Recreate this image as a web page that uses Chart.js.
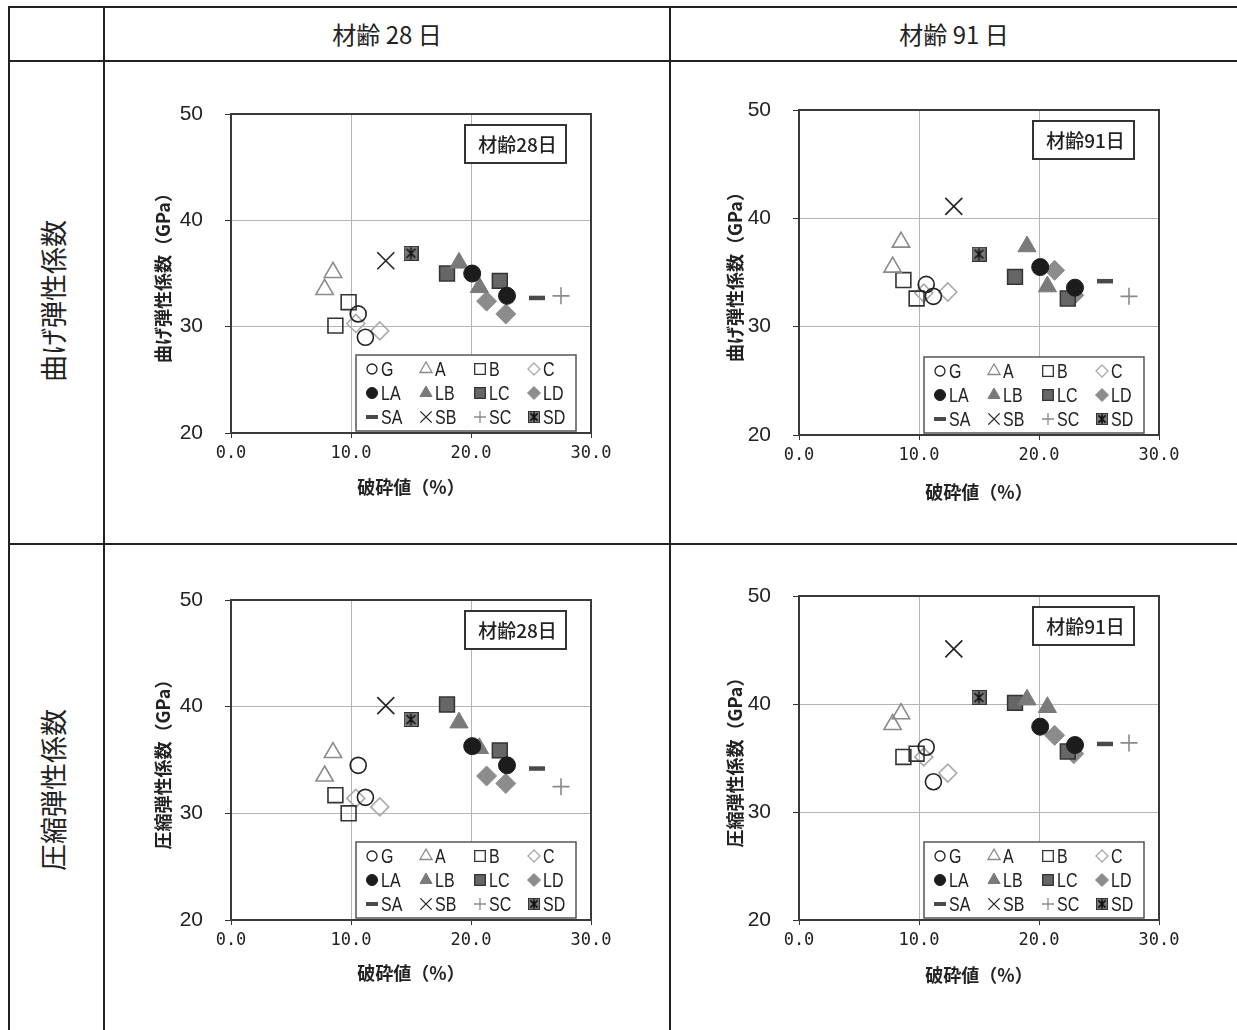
<!DOCTYPE html>
<html lang="ja">
<head>
<meta charset="utf-8">
<title>破砕値と弾性係数</title>
<script src="https://cdn.jsdelivr.net/npm/chart.js@4.4.1/dist/chart.umd.min.js"></script>
<style>
  html, body { margin: 0; padding: 0; background: #fff; }
  body { width: 1237px; height: 1030px; position: relative; overflow: hidden;
         font-family: "Noto Sans CJK JP", sans-serif; color: #222; }
  .ln { position: absolute; background: #222; }
  .head { position: absolute; top: 8px; height: 52px; line-height: 52px; font-size: 24px; text-align: center; }
  .rowlab { position: absolute; font-size: 27px; white-space: nowrap;
            transform: translate(-50%, -50%) rotate(-90deg); }
  canvas { position: absolute; }
</style>
</head>
<body>
<div class="ln" style="left:8px;top:6px;width:1229px;height:2px"></div>
<div class="ln" style="left:8px;top:60px;width:1229px;height:2px"></div>
<div class="ln" style="left:8px;top:543px;width:1229px;height:2px"></div>
<div class="ln" style="left:8px;top:6px;width:2px;height:1024px"></div>
<div class="ln" style="left:103px;top:6px;width:2px;height:1024px"></div>
<div class="ln" style="left:669px;top:6px;width:2px;height:1024px"></div>

<div class="head" style="left:105px;width:564px">材齢 28 日</div>
<div class="head" style="left:671px;width:566px">材齢 91 日</div>
<div class="rowlab" style="left:52px;top:301px">曲げ弾性係数</div>
<div class="rowlab" style="left:52px;top:790px">圧縮弾性係数</div>

<canvas id="c1" width="562" height="480" style="left:106px;top:63px"></canvas>
<canvas id="c2" width="563" height="480" style="left:672px;top:63px"></canvas>
<canvas id="c3" width="562" height="481" style="left:106px;top:547px"></canvas>
<canvas id="c4" width="563" height="481" style="left:672px;top:547px"></canvas>

<script>
// series in legend order
const seriesNames = ['G', 'A', 'B', 'C', 'LA', 'LB', 'LC', 'LD', 'SA', 'SB', 'SC', 'SD'];
// 破砕値 (%) of each aggregate, same in every panel
const crushValues = [[10.6, 11.2], [8.5, 7.8], [8.7, 9.8], [10.4, 12.4], [20.1, 23.0], [19.0, 20.7],
                     [18.0, 22.4], [21.3, 22.9], [25.5], [12.9], [27.5], [15.0]];
// 曲げ弾性係数 (GPa)
const bend28 = [[31.2, 29.0], [35.1, 33.5], [30.1, 32.3], [30.3, 29.6], [35.0, 32.9], [36.0, 33.7],
                [35.0, 34.3], [32.4, 31.2], [32.7], [36.2], [32.9], [36.9]];
const bend91 = [[33.9, 32.8], [37.8, 35.5], [34.3, 32.6], [33.1, 33.2], [35.5, 33.6], [37.4, 33.7],
                [34.6, 32.6], [35.2, 32.9], [34.2], [41.1], [32.8], [36.7]];
// 圧縮弾性係数 (GPa)
const comp28 = [[34.5, 31.5], [35.7, 33.5], [31.7, 30.0], [31.4, 30.6], [36.3, 34.5], [38.5, 36.1],
                [40.2, 35.9], [33.5, 32.8], [34.2], [40.1], [32.5], [38.8]];
const comp91 = [[36.0, 32.8], [39.1, 38.1], [35.1, 35.4], [35.1, 33.6], [37.9, 36.2], [40.4, 39.7],
                [40.1, 35.6], [37.1, 35.4], [36.3], [45.1], [36.4], [40.6]];
const xTicks = [0, 10, 20, 30];
const yTicks = [20, 30, 40, 50];

Chart.defaults.font.family = '"Noto Sans CJK JP", sans-serif';

// asterisk-in-square marker for SD
function makeSD(size) {
    const c = document.createElement('canvas');
    c.width = size; c.height = size;
    const g = c.getContext('2d');
    g.fillStyle = '#787878';
    g.fillRect(0, 0, size, size);
    g.strokeStyle = '#333';
    g.lineWidth = 1;
    g.strokeRect(0.5, 0.5, size - 1, size - 1);
    g.strokeStyle = '#111';
    g.lineWidth = 1.6;
    const m = size / 2, d = size * 0.3, v = size * 0.4;
    g.beginPath();
    g.moveTo(m, m - v); g.lineTo(m, m + v);
    g.moveTo(m - d, m - d); g.lineTo(m + d, m + d);
    g.moveTo(m + d, m - d); g.lineTo(m - d, m + d);
    g.stroke();
    return c;
}
const sdMark = makeSD(15);
const sdSmall = makeSD(12);

const none = 'rgba(0,0,0,0)';
const marks = [
    { style: 'circle',   r: 8,    fill: none,      line: '#222',    lw: 1.6, lr: 5 },
    { style: 'triangle', r: 10,   fill: none,      line: '#8a8a8a', lw: 1.6, lr: 7 },
    { style: 'rect',     r: 10.5, fill: none,      line: '#333',    lw: 1.6, lr: 7.5 },
    { style: 'rectRot',  r: 9,    fill: none,      line: '#aaa',    lw: 1.6, lr: 6 },
    { style: 'circle',   r: 8.5,  fill: '#1c1c1c', line: '#1c1c1c', lw: 1,   lr: 5.5 },
    { style: 'triangle', r: 10.5, fill: '#7a7a7a', line: '#7a7a7a', lw: 1,   lr: 7 },
    { style: 'rect',     r: 10.5, fill: '#666',    line: '#333',    lw: 1.5, lr: 7.5 },
    { style: 'rectRot',  r: 10,   fill: '#8c8c8c', line: '#8c8c8c', lw: 1,   lr: 6.5 },
    { style: 'line',     r: 8,    fill: '#555',    line: '#4a4a4a', lw: 4.5, lr: 6 },
    { style: 'crossRot', r: 12,   fill: '#222',    line: '#222',    lw: 1.6, lr: 8 },
    { style: 'cross',    r: 8.5,  fill: '#8a8a8a', line: '#8a8a8a', lw: 1.6, lr: 6 },
    { style: sdMark,     r: 8,    fill: '#787878', line: '#333',    lw: 1,   lr: 6 }
];

// plot frame, age tag and the boxed legend inside the plot
const framePlugin = {
    id: 'framePlugin',
    beforeDatasetsDraw(chart) {
        const { ctx, chartArea: a } = chart;
        ctx.save();
        ctx.strokeStyle = '#3a3a3a';
        ctx.lineWidth = 2;
        ctx.strokeRect(a.left, a.top, a.right - a.left, a.bottom - a.top);
        ctx.restore();
    },
    afterDatasetsDraw(chart, args, opts) {
        const { ctx, chartArea: a } = chart;
        ctx.save();
        // tag box
        const tw = 101, th = 38;
        const tx = a.right - 25 - tw, ty = a.top + 11;
        ctx.fillStyle = '#fff';
        ctx.fillRect(tx, ty, tw, th);
        ctx.strokeStyle = '#333';
        ctx.lineWidth = 2;
        ctx.strokeRect(tx, ty, tw, th);
        ctx.fillStyle = '#222';
        ctx.font = '500 19px "Noto Sans CJK JP"';
        ctx.textAlign = 'center';
        ctx.textBaseline = 'middle';
        ctx.fillText(opts.tag, tx + tw / 2 + 2, ty + th / 2 + 1);

        // legend box
        const lw = 220, lh = 76;
        const lx = a.right - 15 - lw, ly = a.bottom - 2 - lh;
        ctx.fillStyle = '#fff';
        ctx.fillRect(lx, ly, lw, lh);
        ctx.strokeStyle = '#555';
        ctx.lineWidth = 1.5;
        ctx.strokeRect(lx, ly, lw, lh);
        ctx.textAlign = 'left';
        ctx.font = '20px "Liberation Sans Narrow", "Liberation Sans", sans-serif';
        chart.data.datasets.forEach((ds, i) => {
            const m = marks[i];
            const cx = lx + 16 + (i % 4) * 54;
            const cy = ly + 14 + Math.floor(i / 4) * 24;
            if (i === 11) {
                ctx.drawImage(sdSmall, cx - 6, cy - 6);
            } else {
                ctx.fillStyle = m.fill;
                ctx.strokeStyle = m.line;
                ctx.lineWidth = m.style === 'line' ? 4 : Math.min(m.lw, 1.3);
                Chart.helpers.drawPoint(ctx, { pointStyle: m.style, radius: m.lr, borderWidth: 1, rotation: 0 }, cx, cy);
            }
            // condensed label like the original
            ctx.save();
            ctx.translate(cx + 9, cy + 1);
            ctx.scale(0.8, 1);
            ctx.fillStyle = '#222';
            ctx.fillText(ds.label, 0, 0);
            ctx.restore();
        });
        ctx.restore();
    }
};

const panels = [
    { id: 'c1', ys: bend28, yTitle: '曲げ弾性係数（GPa）', tag: '材齢28日',
      pad: { left: 46, top: 51, right: 77, bottom: 45 }, yW: 79, xH: 65 },
    { id: 'c2', ys: bend91, yTitle: '曲げ弾性係数（GPa）', tag: '材齢91日',
      pad: { left: 52, top: 47, right: 76, bottom: 40 }, yW: 75, xH: 68 },
    { id: 'c3', ys: comp28, yTitle: '圧縮弾性係数（GPa）', tag: '材齢28日',
      pad: { left: 46, top: 53, right: 77, bottom: 44 }, yW: 79, xH: 64 },
    { id: 'c4', ys: comp91, yTitle: '圧縮弾性係数（GPa）', tag: '材齢91日',
      pad: { left: 52, top: 49, right: 76, bottom: 42 }, yW: 75, xH: 66 }
];

panels.forEach(p => {
    const datasets = seriesNames.map((name, i) => ({
        label: name,
        data: crushValues[i].map((x, k) => ({ x: x, y: p.ys[i][k] })),
        pointStyle: marks[i].style,
        pointRadius: marks[i].r,
        backgroundColor: marks[i].fill,
        borderColor: marks[i].line,
        borderWidth: marks[i].lw,
        showLine: false
    }));

    new Chart(document.getElementById(p.id), {
        type: 'scatter',
        data: { datasets: datasets },
        plugins: [framePlugin],
        options: {
            responsive: false,
            animation: false,
            events: [],
            layout: { padding: p.pad },
            plugins: {
                legend: { display: false },
                tooltip: { enabled: false },
                framePlugin: { tag: p.tag }
            },
            scales: {
                x: {
                    type: 'linear',
                    min: 0, max: 30,
                    afterBuildTicks: s => { s.ticks = xTicks.map(v => ({ value: v })); },
                    afterFit: s => { s.height = p.xH; },
                    ticks: {
                        callback: v => v.toFixed(1),
                        font: { family: '"DejaVu Sans Mono", monospace', size: 17 },
                        color: '#222', padding: 5, maxRotation: 0, autoSkip: false
                    },
                    grid: { color: '#b4b4b4', lineWidth: 1, tickLength: 5, tickColor: '#333' },
                    border: { display: false },
                    title: { display: true, text: '破砕値（%）', color: '#222', padding: 0,
                             font: { size: 18, weight: '600' } }
                },
                y: {
                    type: 'linear',
                    min: 20, max: 50,
                    afterBuildTicks: s => { s.ticks = yTicks.map(v => ({ value: v })); },
                    afterFit: s => { s.width = p.yW; },
                    ticks: {
                        font: { family: '"Liberation Sans Narrow", "Liberation Sans", sans-serif', size: 21 },
                        color: '#222', padding: 22
                    },
                    grid: { color: '#b4b4b4', lineWidth: 1, tickLength: 6, tickColor: '#333' },
                    border: { display: false },
                    title: { display: true, text: p.yTitle, color: '#222', padding: 0,
                             font: { size: 18, weight: '600' } }
                }
            }
        }
    });
});
</script>
</body>
</html>
